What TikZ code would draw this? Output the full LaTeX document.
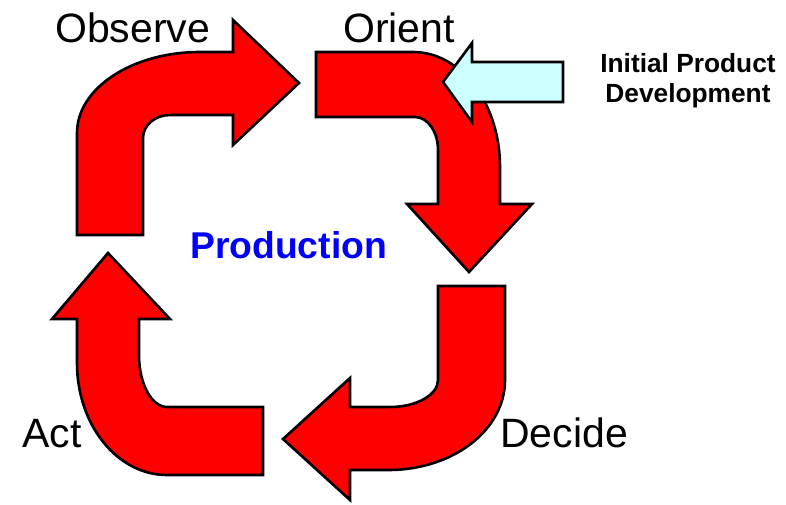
\documentclass[tikz,border=0pt]{standalone}
\usepackage{fontspec}
\setmainfont{Liberation Sans}
\begin{document}
\begin{tikzpicture}[x=1pt,y=-1pt,
  bigarrow/.style={draw=black,fill=red,line width=2.6pt,line join=miter},
  sidearrow/.style={draw=black,fill={rgb,255:red,204;green,255;blue,255},line width=2.6pt,line join=miter},
  phase/.style={inner sep=0pt,anchor=base west,font=\fontsize{41}{44}\selectfont},
  centre/.style={inner sep=0pt,anchor=base west,text=blue,font=\fontsize{37.3}{40}\selectfont\bfseries},
  sidelabel/.style={inner sep=0pt,anchor=base,font=\fontsize{26.3}{30}\selectfont\bfseries}]
\useasboundingbox (0,0) rectangle (786,504);
% Observe arrow
\draw[bigarrow] (77,235) -- (77,133) .. controls (77,88.3) and (132,52) .. (200,52)
  -- (233,52) -- (233,20) -- (299,83) -- (233,145) -- (233,115) -- (170,115)
  .. controls (155,115) and (143,125.3) .. (143,138) -- (143,235) -- cycle;
% Orient arrow
\draw[bigarrow] (316,52) -- (413,52) .. controls (461,52) and (500,103.5) .. (500,167)
  -- (500,204) -- (532,204) -- (469,272) -- (407,204) -- (438,204) -- (438,150)
  .. controls (438,131.8) and (427.7,117) .. (415,117) -- (316,117) -- cycle;
% Decide arrow
\draw[bigarrow] (438,286) -- (505,286) -- (505,380) .. controls (505,429.7) and (453.5,470) .. (388,470)
  -- (350,470) -- (350,500) -- (283,439) -- (350,378) -- (350,407) -- (390,407)
  .. controls (416.5,407) and (438,394.9) .. (438,380) -- cycle;
% Act arrow
\draw[bigarrow] (263,407) -- (263,475) -- (167,475) .. controls (117.3,475) and (77,424.9) .. (77,363)
  -- (77,319) -- (52,319) -- (108,253) -- (170,319) -- (139,319) -- (139,355)
  .. controls (139,383.7) and (151.5,407) .. (167,407) -- cycle;
% Initial product development arrow
\draw[sidearrow] (443,82) -- (472,43) -- (472,62) -- (563,62) -- (563,102) -- (472,102) -- (472,122) -- cycle;
% Labels
\node[phase] (observe) at (55,42) {Observe};
\node[phase] (orient) at (343,42) {Orient};
\node[phase] (decide) at (500,447) {Decide};
\node[phase] (act) at (22,447) {Act};
\node[centre] (production) at (190,258) {Production};
\node[sidelabel] (initial) at (688,72) {Initial Product};
\node[sidelabel] (development) at (688,102) {Development};
\end{tikzpicture}
\end{document}
